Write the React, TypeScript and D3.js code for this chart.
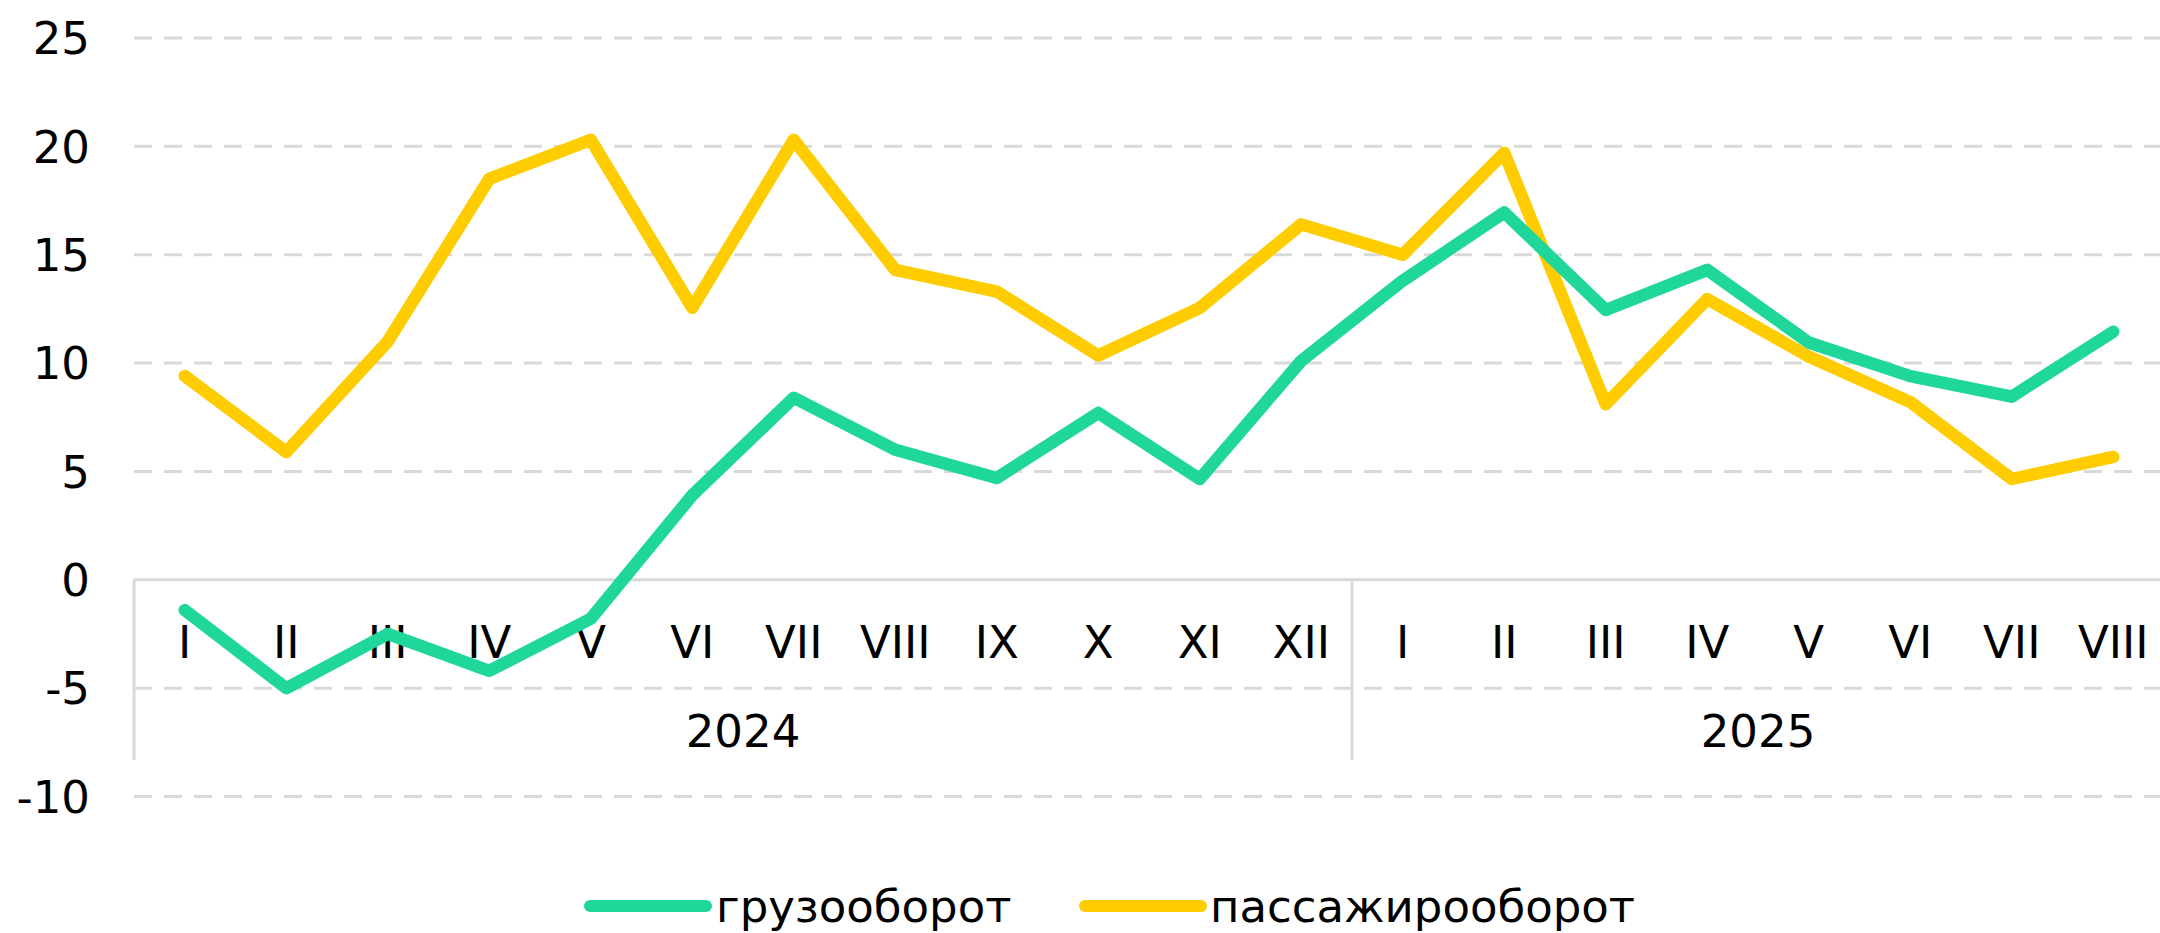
import React from "react";
import * as d3 from "d3";

const months2024 = ["I", "II", "III", "IV", "V", "VI", "VII", "VIII", "IX", "X", "XI", "XII"];
const months2025 = ["I", "II", "III", "IV", "V", "VI", "VII", "VIII"];
const years = ["2024", "2025"];
const yTicks = [25, 20, 15, 10, 5, 0, -5, -10];

const cargo = [-1.4, -5.0, -2.5, -4.2, -1.8, 3.9, 8.4, 6.0, 4.7, 7.7, 4.65, 10.1, 13.8, 16.95, 12.45, 14.3, 10.95, 9.4, 8.45, 11.45];
const passenger = [9.4, 5.9, 11.0, 18.5, 20.3, 12.55, 20.3, 14.3, 13.3, 10.35, 12.55, 16.4, 15.0, 19.7, 8.1, 12.95, 10.3, 8.2, 4.65, 5.67];

const seriesNames = ["грузооборот", "пассажирооборот"];
const seriesColors = ["#1fd69b", "#ffcc00"];

const W = 2160;
const H = 933;
const FONT = "Verdana, 'DejaVu Sans', sans-serif";
const FS = 45;

export default function App() {
  const cats = [
    ...months2024.map((m, i) => `2024-${i}`),
    ...months2025.map((m, i) => `2025-${i}`),
  ];
  const labels = [...months2024, ...months2025];
  const x = d3.scaleBand<string>().domain(cats).range([134, 2164]).padding(0);
  const y = d3.scaleLinear().domain([-10, 25]).range([796.5, 38]);
  const cx = (i: number) => (x(cats[i]) as number) + x.bandwidth() / 2;

  const line = d3
    .line<number>()
    .x((_, i) => cx(i))
    .y((d) => y(d));

  const yZero = y(0);
  const axisBottom = 760;
  const sepX = x(cats[months2024.length]) as number;
  const groups = [
    { label: years[0], start: 0, end: months2024.length },
    { label: years[1], start: months2024.length, end: cats.length },
  ];

  return (
    <div style={{ position: "fixed", left: 0, top: 0 }}>
      <svg width={W} height={H} style={{ display: "block", background: "#fff" }} fontFamily={FONT}>
        {yTicks.map((t) =>
          t === 0 ? null : (
            <line
              key={t}
              x1={134}
              x2={W}
              y1={y(t)}
              y2={y(t)}
              stroke="#d9d9d9"
              strokeWidth={3}
              strokeDasharray="18 12"
            />
          )
        )}
        <line x1={134} x2={W} y1={yZero} y2={yZero} stroke="#d9d9d9" strokeWidth={3} />
        <line x1={134} x2={134} y1={yZero} y2={axisBottom} stroke="#d9d9d9" strokeWidth={3} />
        <line x1={sepX} x2={sepX} y1={yZero} y2={axisBottom} stroke="#d9d9d9" strokeWidth={3} />

        {yTicks.map((t) => (
          <text
            key={t}
            x={90}
            y={y(t)}
            dy="0.36em"
            textAnchor="end"
            fontSize={FS}
            fill="#000"
          >
            {t}
          </text>
        ))}

        {labels.map((l, i) => (
          <text key={i} x={cx(i)} y={658} textAnchor="middle" fontSize={FS} fill="#000">
            {l}
          </text>
        ))}
        {groups.map((g) => {
          const x0 = x(cats[g.start]) as number;
          const x1 = (x(cats[g.end - 1]) as number) + x.bandwidth();
          return (
            <text key={g.label} x={(x0 + x1) / 2} y={747} textAnchor="middle" fontSize={FS} fill="#000">
              {g.label}
            </text>
          );
        })}

        <path
          d={line(passenger) || ""}
          fill="none"
          stroke={seriesColors[1]}
          strokeWidth={12.5}
          strokeLinejoin="round"
          strokeLinecap="round"
        />
        <path
          d={line(cargo) || ""}
          fill="none"
          stroke={seriesColors[0]}
          strokeWidth={12.5}
          strokeLinejoin="round"
          strokeLinecap="round"
        />

        {[
          { x0: 590, x1: 706, tx: 716 },
          { x0: 1085, x1: 1201, tx: 1210 },
        ].map((lg, i) => (
          <g key={i}>
            <line
              x1={lg.x0}
              x2={lg.x1}
              y1={906}
              y2={906}
              stroke={seriesColors[i]}
              strokeWidth={12}
              strokeLinecap="round"
            />
            <text x={lg.tx} y={906} dy="0.36em" fontSize={FS} fill="#000">
              {seriesNames[i]}
            </text>
          </g>
        ))}
      </svg>
    </div>
  );
}
